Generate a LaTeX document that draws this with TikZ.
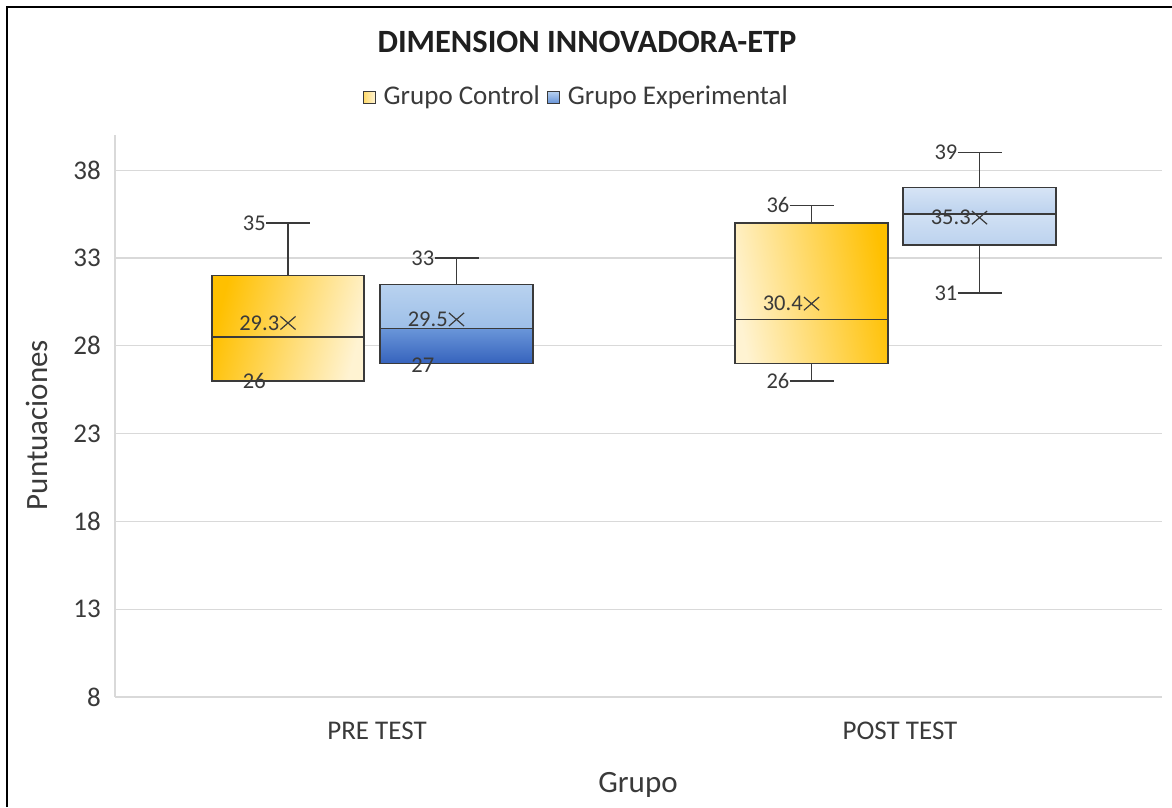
\documentclass[tikz,border=0pt]{standalone}
\usepackage{fontspec}
\setmainfont{Carlito}
\usetikzlibrary{shapes.misc}
\definecolor{txt}{HTML}{3A3A3A}
\definecolor{gridc}{HTML}{D9D9D9}
\definecolor{ctlDark}{HTML}{FFC000}
\definecolor{ctlLight}{HTML}{FFF3D2}
\definecolor{expTop}{HTML}{B9D2EF}
\definecolor{expMid}{HTML}{9DBFE8}
\definecolor{expLow}{HTML}{6A96D9}
\definecolor{expBot}{HTML}{3663BD}
\definecolor{expLtA}{HTML}{D6E4F5}
\definecolor{expLtB}{HTML}{BCD2EE}
\begin{document}
\begin{tikzpicture}[x=1pt,y=-1pt,
  declare function={Y(\v)=697-(\v-8)*17.56;},
  gridline/.style={draw=gridc, line width=1.3},
  boxline/.style={draw=txt, line width=1.4},
  whisk/.style={draw=txt, line width=1.4},
  dlabel/.style={text=txt, font=\fontsize{22.5}{26}\selectfont, inner sep=0pt},
  ticklabel/.style={text=txt, font=\fontsize{27}{32}\selectfont, inner sep=0pt, anchor=east},
  cattext/.style={text=txt, font=\fontsize{27}{32}\selectfont, inner sep=0pt},
  axtitle/.style={text=txt, font=\fontsize{31}{36}\selectfont, inner sep=0pt},
  meanmark/.style={cross out, draw=txt, line width=1.2, minimum width=14, minimum height=12, inner sep=0pt},
  legsq/.style={draw=txt, line width=1, minimum size=12, inner sep=0pt},
]
\useasboundingbox (0,0) rectangle (1172,807);
\fill[white] (0,0) rectangle (1172,807);
% frame
\draw[line width=2.2, black] (7,807) -- (7,7) -- (1172,7);

% title and legend
\node[font=\bfseries\fontsize{32.5}{38}\selectfont, text=black!88, inner sep=0pt] (title) at (587,42) {DIMENSION INNOVADORA-ETP};
\node[legsq, left color=ctlDark!60, right color=ctlLight] (lg1) at (369,97) {};
\node[cattext, anchor=west] (lg1t) at ([xshift=8]lg1.east) {Grupo Control};
\node[legsq, top color=expTop, bottom color=expLow] (lg2) at ([xshift=13]lg1t.east) {};
\node[cattext, anchor=west] (lg2t) at ([xshift=8]lg2.east) {Grupo Experimental};

% grid
\coordinate (axtop) at (115,135);
\coordinate (axbot) at (115,697);
\draw[gridline] (axtop) -- (axbot);
\foreach \v in {8,13,...,38}{
  \coordinate (gl\v) at (115,{Y(\v)});
  \coordinate (gr\v) at (1162,{Y(\v)});
  \draw[gridline] (gl\v) -- (gr\v);
  \node[ticklabel] (t\v) at (101,{Y(\v)}) {\v};
}

% axis titles and categories
\node[axtitle, rotate=90] (ytitle) at (37,425) {Puntuaciones};
\node[axtitle] (xtitle) at (638,785) {Grupo};
\node[cattext] (cat1) at (377,731) {PRE TEST};
\node[cattext] (cat2) at (900,731) {POST TEST};

% ---------- Box 1: PRE TEST, control ----------
\shade[left color=ctlDark, right color=ctlLight, shading angle=75] (212,{Y(26)}) rectangle (364,{Y(32)});
\coordinate (b1sw) at (212,{Y(26)});
\coordinate (b1ne) at (364,{Y(32)});
\draw[boxline] (b1sw) rectangle (b1ne);
\coordinate (b1ml) at (212,{Y(28.5)});
\coordinate (b1mr) at (364,{Y(28.5)});
\draw[boxline] (b1ml) -- (b1mr);
\coordinate (b1q3) at (288,{Y(32)});
\coordinate (b1mx) at (288,{Y(35)});
\draw[whisk] (b1q3) -- (b1mx);
\coordinate (b1cl) at (266,{Y(35)});
\coordinate (b1cr) at (310,{Y(35)});
\draw[whisk] (b1cl) -- (b1cr);
\node[dlabel, anchor=east] (b1maxl) at (b1cl) {35};
\node[dlabel, anchor=east] (b1minl) at (266,{Y(26)}) {26};
\node[meanmark] (b1mean) at (288,{Y(29.3)}) {};
\node[dlabel, anchor=east] (b1meanl) at ([xshift=-1]b1mean.west) {29.3};

% ---------- Box 2: PRE TEST, experimental ----------
\shade[top color=expTop, bottom color=expMid] (380,{Y(29)}) rectangle (533,{Y(31.5)});
\shade[top color=expLow, bottom color=expBot] (380,{Y(27)}) rectangle (533,{Y(29)});
\coordinate (b2sw) at (380,{Y(27)});
\coordinate (b2ne) at (533,{Y(31.5)});
\draw[boxline] (b2sw) rectangle (b2ne);
\coordinate (b2ml) at (380,{Y(29)});
\coordinate (b2mr) at (533,{Y(29)});
\draw[boxline] (b2ml) -- (b2mr);
\coordinate (b2q3) at (456.5,{Y(31.5)});
\coordinate (b2mx) at (456.5,{Y(33)});
\draw[whisk] (b2q3) -- (b2mx);
\coordinate (b2cl) at (434.5,{Y(33)});
\coordinate (b2cr) at (478.5,{Y(33)});
\draw[whisk] (b2cl) -- (b2cr);
\node[dlabel, anchor=east] (b2maxl) at (b2cl) {33};
\node[dlabel, anchor=east] (b2minl) at (434.5,{Y(26.9)}) {27};
\node[meanmark] (b2mean) at (456.5,{Y(29.5)}) {};
\node[dlabel, anchor=east] (b2meanl) at ([xshift=-1]b2mean.west) {29.5};

% ---------- Box 3: POST TEST, control ----------
\shade[left color=ctlLight, right color=ctlDark, shading angle=100] (735,{Y(27)}) rectangle (888,{Y(35)});
\coordinate (b3sw) at (735,{Y(27)});
\coordinate (b3ne) at (888,{Y(35)});
\draw[boxline] (b3sw) rectangle (b3ne);
\coordinate (b3ml) at (735,{Y(29.5)});
\coordinate (b3mr) at (888,{Y(29.5)});
\draw[boxline] (b3ml) -- (b3mr);
\coordinate (b3q3) at (811.5,{Y(35)});
\coordinate (b3mx) at (811.5,{Y(36)});
\draw[whisk] (b3q3) -- (b3mx);
\coordinate (b3cl) at (789.5,{Y(36)});
\coordinate (b3cr) at (833.5,{Y(36)});
\draw[whisk] (b3cl) -- (b3cr);
\coordinate (b3q1) at (811.5,{Y(27)});
\coordinate (b3mn) at (811.5,{Y(26)});
\draw[whisk] (b3q1) -- (b3mn);
\coordinate (b3dl) at (789.5,{Y(26)});
\coordinate (b3dr) at (833.5,{Y(26)});
\draw[whisk] (b3dl) -- (b3dr);
\node[dlabel, anchor=east] (b3maxl) at (b3cl) {36};
\node[dlabel, anchor=east] (b3minl) at (b3dl) {26};
\node[meanmark] (b3mean) at (811.5,{Y(30.4)}) {};
\node[dlabel, anchor=east] (b3meanl) at ([xshift=-1]b3mean.west) {30.4};

% ---------- Box 4: POST TEST, experimental ----------
\shade[top color=expLtA, bottom color=expLtB] (903,{Y(35.5)}) rectangle (1056,{Y(37)});
\shade[top color=expLtA!80!expLtB, bottom color=expLtB] (903,{Y(33.75)}) rectangle (1056,{Y(35.5)});
\coordinate (b4sw) at (903,{Y(33.75)});
\coordinate (b4ne) at (1056,{Y(37)});
\draw[boxline] (b4sw) rectangle (b4ne);
\coordinate (b4ml) at (903,{Y(35.5)});
\coordinate (b4mr) at (1056,{Y(35.5)});
\draw[boxline] (b4ml) -- (b4mr);
\coordinate (b4q3) at (979.5,{Y(37)});
\coordinate (b4mx) at (979.5,{Y(39)});
\draw[whisk] (b4q3) -- (b4mx);
\coordinate (b4cl) at (957.5,{Y(39)});
\coordinate (b4cr) at (1001.5,{Y(39)});
\draw[whisk] (b4cl) -- (b4cr);
\coordinate (b4q1) at (979.5,{Y(33.75)});
\coordinate (b4mn) at (979.5,{Y(31)});
\draw[whisk] (b4q1) -- (b4mn);
\coordinate (b4dl) at (957.5,{Y(31)});
\coordinate (b4dr) at (1001.5,{Y(31)});
\draw[whisk] (b4dl) -- (b4dr);
\node[dlabel, anchor=east] (b4maxl) at (b4cl) {39};
\node[dlabel, anchor=east] (b4minl) at (b4dl) {31};
\node[meanmark] (b4mean) at (979.5,{Y(35.3)}) {};
\node[dlabel, anchor=east] (b4meanl) at ([xshift=-1]b4mean.west) {35.3};
\end{tikzpicture}
\end{document}
